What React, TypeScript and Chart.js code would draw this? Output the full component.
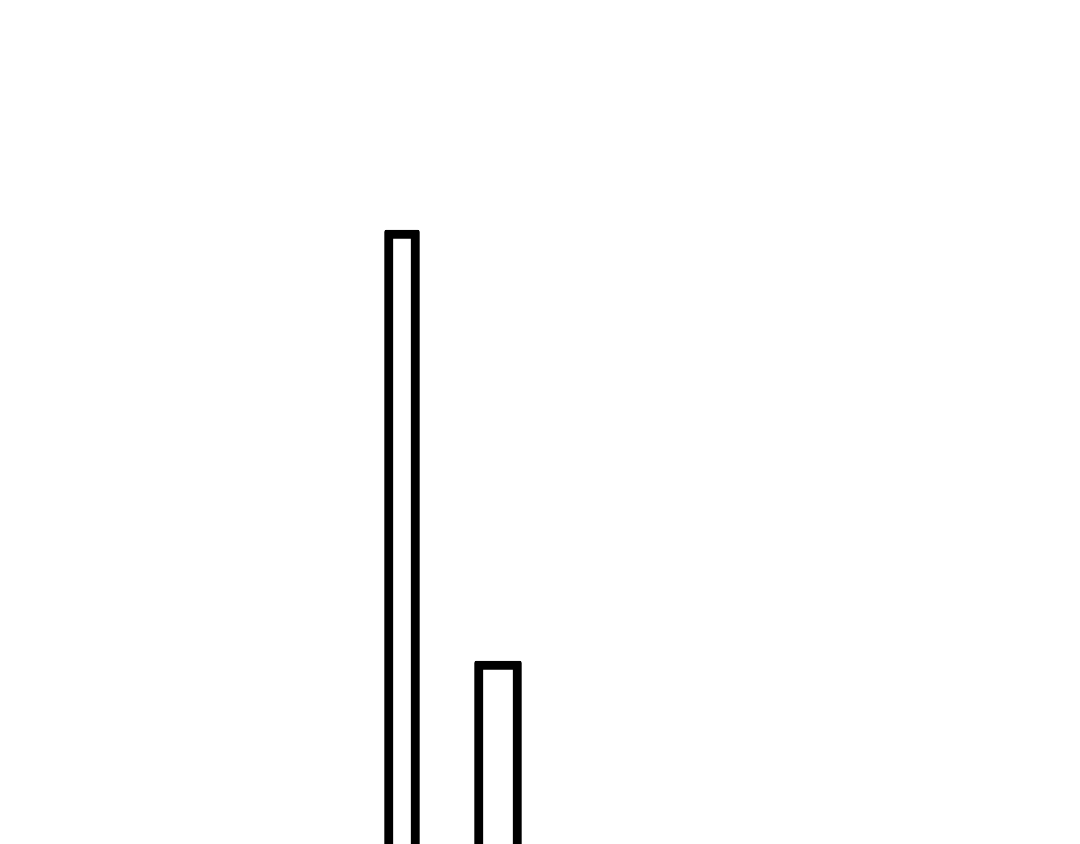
import { useEffect, useRef } from "react";
import { Chart, registerables } from "chart.js";

Chart.register(...registerables);

// two categories, one bar each (no text shown in the picture)
const categories = ["A", "B"];
const tallValues = [77.8, null];
const shortValues = [null, 34.7];

export default function App() {
  const canvasRef = useRef<HTMLCanvasElement>(null);

  useEffect(() => {
    if (!canvasRef.current) return;

    const chart = new Chart(canvasRef.current, {
      type: "bar",
      data: {
        labels: categories,
        datasets: [
          {
            data: tallValues,
            backgroundColor: "#ffffff",
            borderColor: "#000000",
            borderWidth: 9,
            borderRadius: 2,
            borderSkipped: false,
            barThickness: 35,
          },
          {
            data: shortValues,
            backgroundColor: "#ffffff",
            borderColor: "#000000",
            borderWidth: 9,
            borderRadius: 2,
            borderSkipped: false,
            barThickness: 47,
          },
        ],
      },
      options: {
        animation: false,
        responsive: true,
        maintainAspectRatio: false,
        layout: { padding: { left: 346, right: 526, top: 0, bottom: 0 } },
        plugins: {
          legend: { display: false },
          tooltip: { enabled: false },
        },
        scales: {
          x: { display: false, stacked: true },
          y: { display: false, min: 0, max: 100 },
        },
      },
    });

    return () => {
      chart.destroy();
    };
  }, []);

  return (
    <div style={{ width: 1064, height: 836, overflow: "hidden" }}>
      <div style={{ position: "relative", width: 1064, height: 1000 }}>
        <canvas ref={canvasRef}></canvas>
      </div>
    </div>
  );
}
